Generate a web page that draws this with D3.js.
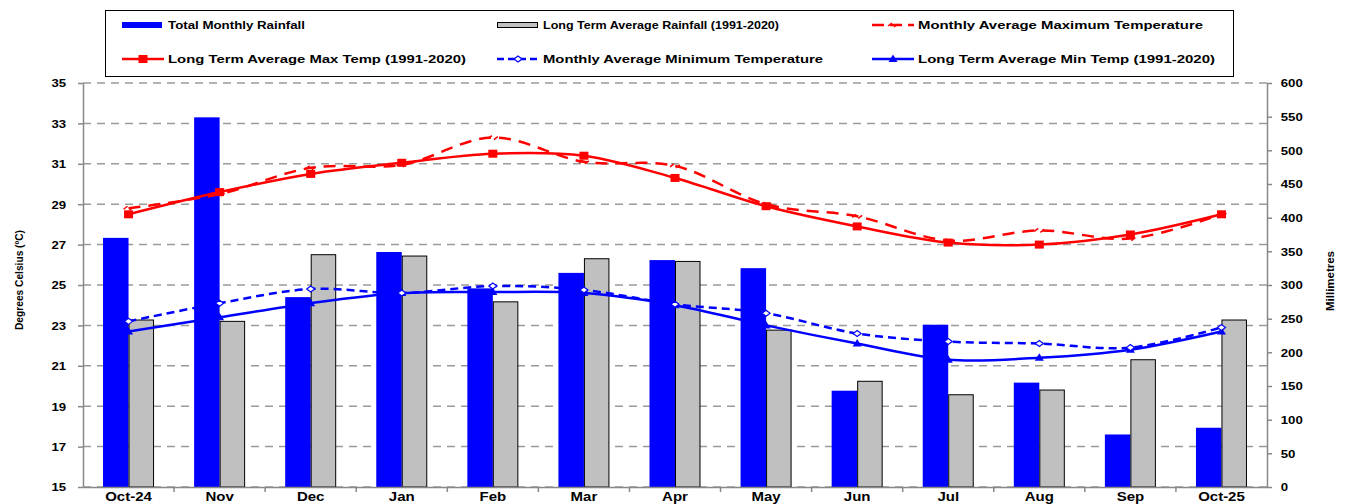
<!DOCTYPE html>
<html>
<head>
<meta charset="utf-8">
<script src="https://cdn.jsdelivr.net/npm/d3@7"></script>
<style>
  body { margin: 0; background: #fff; }
  text { font-family: "Liberation Sans", Arial, sans-serif; font-weight: bold; fill: #000; }
</style>
</head>
<body>
<svg id="chart" width="1348" height="504"></svg>
<script>
"use strict";
// months along the bottom
var months = ["Oct-24","Nov","Dec","Jan","Feb","Mar","Apr","May","Jun","Jul","Aug","Sep","Oct-25"];
// rainfall, mm (right axis)
var rainTotal = [370, 549, 282, 349, 295, 318, 337, 325, 143, 241, 155, 78, 88];
var rainLTA   = [248, 246, 345, 343, 275, 339, 335, 233, 157, 137, 144, 189, 248];
// temperatures, deg C (left axis)
var maxMonthly = [28.8, 29.5, 30.8, 30.95, 32.3, 31.1, 30.9, 29.0, 28.4, 27.2, 27.7, 27.3, 28.5];
var maxLTA     = [28.5, 29.6, 30.5, 31.05, 31.5, 31.4, 30.3, 28.9, 27.9, 27.1, 27.0, 27.5, 28.5];
var minMonthly = [23.2, 24.1, 24.8, 24.6, 24.95, 24.75, 24.05, 23.6, 22.6, 22.2, 22.1, 21.9, 22.9];
var minLTA     = [22.7, 23.4, 24.1, 24.6, 24.65, 24.6, 24.0, 23.0, 22.1, 21.3, 21.4, 21.8, 22.7];
var tempTicks = [15,17,19,21,23,25,27,29,31,33,35];
var rainTicks = [0,50,100,150,200,250,300,350,400,450,500,550,600];

var svg = d3.select("#chart");
var L = 83, R = 1267, T = 83, B = 487;

var x = d3.scaleBand().domain(months).range([L, R]).padding(0);
var yT = d3.scaleLinear().domain([15, 35]).range([B, T]);
var yR = d3.scaleLinear().domain([0, 600]).range([B, T]);
var barW = x.bandwidth() * 0.28;
var cx = function(m) { return x(m) + x.bandwidth() / 2; };

// gridlines
svg.append("g").selectAll("line").data(tempTicks).enter().append("line")
  .attr("x1", L).attr("x2", R)
  .attr("y1", d => yT(d)).attr("y2", d => yT(d))
  .attr("stroke", "#9a9a9a").attr("stroke-width", 1.5).attr("stroke-dasharray", "8,6");

// bars
svg.append("g").selectAll("rect").data(months).enter().append("rect")
  .attr("x", d => cx(d) - barW)
  .attr("width", barW)
  .attr("y", (d, i) => yR(rainTotal[i]))
  .attr("height", (d, i) => B - yR(rainTotal[i]))
  .attr("fill", "#0000ff");
svg.append("g").selectAll("rect").data(months).enter().append("rect")
  .attr("x", d => cx(d) + 0.5)
  .attr("width", barW - 1)
  .attr("y", (d, i) => yR(rainLTA[i]))
  .attr("height", (d, i) => B - yR(rainLTA[i]))
  .attr("fill", "#c0c0c0").attr("stroke", "#000").attr("stroke-width", 1);

// axes
function styleAxis(g) {
  g.select(".domain").attr("stroke", "#888").attr("stroke-width", 1.5);
  g.selectAll(".tick line").attr("stroke", "#888").attr("stroke-width", 1.5);
  g.selectAll("text").attr("font-size", 11).attr("font-family", "Liberation Sans, Arial, sans-serif")
    .attr("font-weight", "bold");
}
var gl = svg.append("g").attr("transform", "translate(" + L + ",0)")
  .call(d3.axisLeft(yT).tickValues(tempTicks).tickSize(5).tickSizeOuter(0).tickPadding(9));
styleAxis(gl);
gl.selectAll("text").attr("transform", "scale(1.2,1)").attr("dy", "0.35em");

var gr = svg.append("g").attr("transform", "translate(" + R + ",0)")
  .call(d3.axisRight(yR).tickValues(rainTicks).tickSize(5).tickSizeOuter(0).tickPadding(9));
styleAxis(gr);
gr.selectAll("text").attr("transform", "scale(1.2,1)").attr("x", 11.5).attr("dy", "0.35em");

var gb = svg.append("g").attr("transform", "translate(0," + B + ")")
  .call(d3.axisBottom(x).tickSize(0));
styleAxis(gb);
gb.selectAll(".tick").each(function(d) {
  d3.select(this).attr("transform", null);
  d3.select(this).select("text")
    .attr("font-size", 12).attr("x", 0).attr("y", 0).attr("dy", 0)
    .attr("transform", "translate(" + cx(d) + ",14) scale(1.25,1)");
});
// category separators on the x axis
svg.append("g").selectAll("line").data(months.slice(1)).enter().append("line")
  .attr("x1", d => x(d)).attr("x2", d => x(d))
  .attr("y1", B).attr("y2", B + 5)
  .attr("stroke", "#888").attr("stroke-width", 1.5);

// lines
var line = function(sc, vals) {
  return d3.line().x((d, i) => cx(months[i])).y(d => sc(d)).curve(d3.curveCatmullRom.alpha(0.5))(vals);
};
svg.append("path").attr("d", line(yT, minLTA)).attr("fill", "none")
  .attr("stroke", "#0000ff").attr("stroke-width", 2.5);
svg.append("path").attr("d", line(yT, minMonthly)).attr("fill", "none")
  .attr("stroke", "#0000ff").attr("stroke-width", 2.5).attr("stroke-dasharray", "8,5");
svg.append("path").attr("d", line(yT, maxLTA)).attr("fill", "none")
  .attr("stroke", "#ff0000").attr("stroke-width", 2.5);
svg.append("path").attr("d", line(yT, maxMonthly)).attr("fill", "none")
  .attr("stroke", "#ff0000").attr("stroke-width", 2.5).attr("stroke-dasharray", "12,8");

// markers
function squareAt(g, x0, y0) {
  g.append("rect").attr("x", x0 - 4.5).attr("y", y0 - 4).attr("width", 9).attr("height", 8).attr("fill", "#ff0000");
}
function triAt(g, x0, y0) {
  g.append("path").attr("d", "M" + x0 + "," + (y0 - 4.5) + "L" + (x0 + 4.5) + "," + (y0 + 3) + "L" + (x0 - 4.5) + "," + (y0 + 3) + "Z")
    .attr("fill", "#0000ff");
}
function diaAt(g, x0, y0, col) {
  g.append("path").attr("d", "M" + (x0 - 4) + "," + y0 + "L" + x0 + "," + (y0 - 3) + "L" + (x0 + 4) + "," + y0 + "L" + x0 + "," + (y0 + 3) + "Z")
    .attr("fill", "#fff").attr("stroke", col).attr("stroke-width", 1.2);
}
function slashAt(g, x0, y0) {
  g.append("path").attr("d", "M" + (x0 - 5) + "," + (y0 + 1) + "L" + (x0 - 1) + "," + (y0 - 2) + "M" + (x0 + 1) + "," + (y0 + 2) + "L" + (x0 + 5) + "," + (y0 - 1))
    .attr("stroke", "#ff0000").attr("stroke-width", 1.5).attr("fill", "none");
}
var mk = svg.append("g");
months.forEach(function(m, i) {
  triAt(mk, cx(m), yT(minLTA[i]));
  diaAt(mk, cx(m), yT(minMonthly[i]), "#0000ff");
  squareAt(mk, cx(m), yT(maxLTA[i]));
  slashAt(mk, cx(m), yT(maxMonthly[i]));
});

// axis titles
svg.append("text").attr("transform", "translate(19,280) rotate(-90)")
  .attr("text-anchor", "middle").attr("dy", "0.35em").attr("font-size", 11)
  .attr("textLength", 100).attr("lengthAdjust", "spacingAndGlyphs")
  .text("Degrees Celsius (\u00baC)");
svg.append("text").attr("transform", "translate(1330,281) rotate(-90)")
  .attr("text-anchor", "middle").attr("dy", "0.35em").attr("font-size", 11)
  .attr("textLength", 60).attr("lengthAdjust", "spacingAndGlyphs")
  .text("Millimetres");

// legend
var lg = svg.append("g");
lg.append("rect").attr("x", 105.5).attr("y", 10.5).attr("width", 1128).attr("height", 66)
  .attr("fill", "#fff").attr("stroke", "#000").attr("stroke-width", 1);
var legendItems = [
  {label: "Total Monthly Rainfall", col: 0, row: 0, len: 137, kind: "bar"},
  {label: "Long Term Average Rainfall (1991-2020)", col: 1, row: 0, len: 236, kind: "lta"},
  {label: "Monthly Average Maximum Temperature", col: 2, row: 0, len: 285, kind: "maxm"},
  {label: "Long Term Average Max Temp (1991-2020)", col: 0, row: 1, len: 298, kind: "maxl"},
  {label: "Monthly Average Minimum Temperature", col: 1, row: 1, len: 280, kind: "minm"},
  {label: "Long Term Average Min Temp (1991-2020)", col: 2, row: 1, len: 297, kind: "minl"}
];
var colX = [122, 497, 872], rowY = [25, 59];
legendItems.forEach(function(it) {
  var x0 = colX[it.col], y0 = rowY[it.row], x1 = x0 + 42, xm = (x0 + x1) / 2;
  if (it.kind == "bar") {
    lg.append("rect").attr("x", x0).attr("y", y0 - 3).attr("width", 40).attr("height", 6).attr("fill", "#0000ff");
  } else if (it.kind == "lta") {
    lg.append("rect").attr("x", x0 + 0.5).attr("y", y0 - 2.5).attr("width", 40).attr("height", 5)
      .attr("fill", "#c0c0c0").attr("stroke", "#000").attr("stroke-width", 1);
  } else {
    var red = (it.kind == "maxm" || it.kind == "maxl");
    var dashed = (it.kind == "maxm" || it.kind == "minm");
    lg.append("line").attr("x1", x0).attr("x2", x1).attr("y1", y0).attr("y2", y0)
      .attr("stroke", red ? "#ff0000" : "#0000ff").attr("stroke-width", 2.5)
      .attr("stroke-dasharray", dashed ? (red ? "12,6" : "7,4") : null);
    if (it.kind == "maxl") squareAt(lg, xm, y0);
    if (it.kind == "minl") triAt(lg, xm, y0);
    if (it.kind == "minm") diaAt(lg, xm, y0, "#0000ff");
    if (it.kind == "maxm") slashAt(lg, xm, y0);
  }
  lg.append("text").attr("x", x0 + 46).attr("y", y0).attr("dy", "0.35em")
    .attr("font-size", 11.5).attr("textLength", it.len).attr("lengthAdjust", "spacingAndGlyphs")
    .text(it.label);
});
</script>
</body>
</html>
